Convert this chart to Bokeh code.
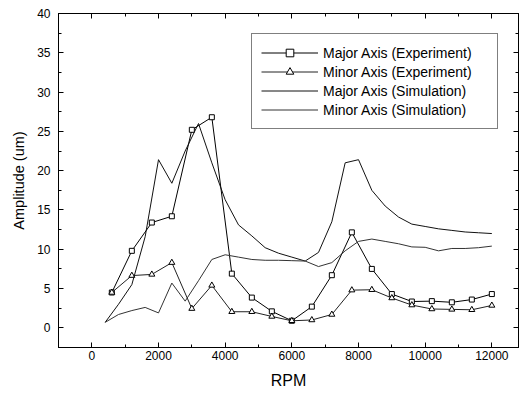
from bokeh.plotting import figure
from bokeh.models import (LinearAxis, Legend, LegendItem, Range1d,
                          SingleIntervalTicker, CustomJSTickFormatter)
from bokeh.embed import file_html
from bokeh.resources import INLINE

# Experimental data (600 rpm steps)
rpm_exp = [600, 1200, 1800, 2400, 3000, 3600, 4200, 4800, 5400, 6000,
           6600, 7200, 7800, 8400, 9000, 9600, 10200, 10800, 11400, 12000]
major_exp = [4.5, 9.8, 13.4, 14.2, 25.2, 26.8, 6.9, 3.85, 2.1, 0.9,
             2.7, 6.7, 12.15, 7.5, 4.3, 3.35, 3.4, 3.25, 3.6, 4.3]
minor_exp = [4.5, 6.65, 6.8, 8.3, 2.45, 5.4, 2.05, 2.05, 1.45, 0.9,
             1.0, 1.7, 4.8, 4.85, 3.8, 2.9, 2.4, 2.35, 2.3, 2.85]

# Simulation data (400 rpm steps)
rpm_sim = [400, 800, 1200, 1600, 2000, 2400, 2800, 3200, 3600, 4000,
           4400, 4800, 5200, 5600, 6000, 6400, 6800, 7200, 7600, 8000,
           8400, 8800, 9200, 9600, 10000, 10400, 10800, 11200, 11600, 12000]
major_sim = [0.7, 3.0, 5.5, 11.6, 21.4, 18.4, 22.5, 26.0, 21.0, 16.3,
             13.1, 11.7, 10.2, 9.5, 9.0, 8.5, 9.6, 13.5, 21.0, 21.4,
             17.5, 15.5, 14.1, 13.2, 12.9, 12.6, 12.4, 12.2, 12.1, 12.0]
minor_sim = [0.7, 1.7, 2.2, 2.6, 1.9, 5.7, 3.4, 6.0, 8.7, 9.3,
             9.0, 8.7, 8.6, 8.6, 8.55, 8.5, 7.8, 8.3, 9.8, 11.0,
             11.3, 11.0, 10.7, 10.3, 10.25, 9.8, 10.1, 10.1, 10.2, 10.4]

labels = ["Major Axis (Experiment)", "Minor Axis (Experiment)",
          "Major Axis (Simulation)", "Minor Axis (Simulation)"]

FONT = "Liberation Sans"

p = figure(frame_width=460, frame_height=334,
           x_range=Range1d(-1000, 12800), y_range=Range1d(-2.5, 40),
           output_backend="svg", toolbar_location=None,
           min_border_left=58, min_border_right=8, min_border_top=13,
           min_border_bottom=46,
           x_axis_label="RPM", y_axis_label="Amplitude (um)")
p.xgrid.visible = False
p.ygrid.visible = False
p.outline_line_color = "black"
p.background_fill_color = "white"
p.border_fill_color = "white"

def style(ax, labels_on=True):
    ax.axis_line_color = "black"
    ax.major_tick_line_color = "black"
    ax.minor_tick_line_color = "black"
    ax.major_tick_in = 5
    ax.major_tick_out = 0
    ax.minor_tick_in = 3
    ax.minor_tick_out = 0
    ax.major_label_text_font = FONT
    ax.major_label_text_font_size = "12px"
    ax.major_label_text_color = "black"
    ax.axis_label_text_font = FONT
    ax.axis_label_text_font_style = "normal"
    ax.axis_label_text_color = "black"
    if not labels_on:
        ax.formatter = CustomJSTickFormatter(code="return ''")
        ax.major_label_standoff = 0

p.xaxis.ticker = SingleIntervalTicker(interval=2000, num_minor_ticks=2)
p.yaxis.ticker = SingleIntervalTicker(interval=5, num_minor_ticks=2)
style(p.xaxis[0])
style(p.yaxis[0])
p.xaxis.axis_label_text_font_size = "16px"
p.yaxis.axis_label_text_font_size = "14.5px"
p.xaxis.major_label_standoff = 3
p.xaxis.axis_label_standoff = 9
p.yaxis.major_label_standoff = 8
p.yaxis.axis_label_standoff = 7

top = LinearAxis(ticker=SingleIntervalTicker(interval=2000, num_minor_ticks=2))
style(top, False)
p.add_layout(top, "above")
right = LinearAxis(ticker=SingleIntervalTicker(interval=5, num_minor_ticks=2))
style(right, False)
p.add_layout(right, "right")

c = "black"
l1 = p.line(rpm_exp, major_exp, line_color=c, line_width=1)
m1 = p.scatter(rpm_exp, major_exp, marker="square", size=5,
               fill_color="white", line_color=c, line_width=1)
l2 = p.line(rpm_exp, minor_exp, line_color="#222222", line_width=1)
m2 = p.scatter(rpm_exp, minor_exp, marker="triangle", size=6,
               fill_color="white", line_color=c, line_width=1)
l3 = p.line(rpm_sim, major_sim, line_color="#111111", line_width=1)
l4 = p.line(rpm_sim, minor_sim, line_color="#333333", line_width=1)

legend = Legend(items=[
    LegendItem(label=labels[0], renderers=[l1, m1]),
    LegendItem(label=labels[1], renderers=[l2, m2]),
    LegendItem(label=labels[2], renderers=[l3]),
    LegendItem(label=labels[3], renderers=[l4]),
], location="top_right")
legend.margin = 20
legend.padding = 9
legend.spacing = 0
legend.label_height = 19
legend.glyph_height = 19
legend.glyph_width = 57
legend.label_standoff = 5
legend.label_width = 165
legend.label_text_font = FONT
legend.label_text_font_size = "14px"
legend.label_text_color = "black"
legend.border_line_color = "black"
legend.border_line_width = 1
legend.background_fill_alpha = 1
p.add_layout(legend, "center")

open("out.html", "w").write(file_html(p, INLINE))
